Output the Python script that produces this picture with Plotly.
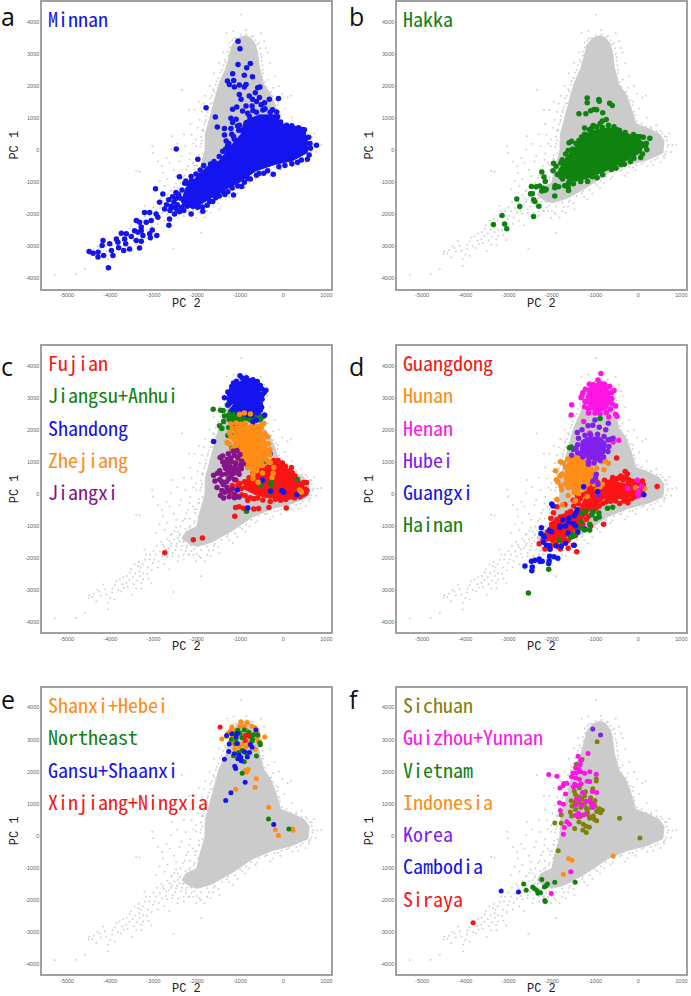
import plotly.graph_objects as go

W, H = 691, 996

X_TICKS = [-5000, -4000, -3000, -2000, -1000, 0, 1000]
Y_TICKS = [-4000, -3000, -2000, -1000, 0, 1000, 2000, 3000, 4000]

# solid part of the grey cloud, too many samples to read one by one
GREY_BLOB = [(-880,3570),(-760,3510),(-660,3340),(-600,3100),(-550,2570),(-450,2060),(-290,1760),(-170,1340),(-60,830),(255,660),(485,510),(600,290),(570,-90),(215,-300),(-250,-460),(-710,-720),(-1170,-1140),(-1630,-1490),(-1800,-1570),(-2000,-1640),(-2200,-1540),(-2340,-1380),(-2250,-1180),(-2000,-1020),(-1920,-540),(-1810,-20),(-1800,500),(-1700,1015),(-1600,1530),(-1490,2050),(-1320,2570),(-1180,3280),(-1060,3490)]
GREY_PTS = [(-5285,-3885),(-4800,-3865),(-4590,-3710),(-4055,-3605),(-4490,-3160),(-4415,-3220),(-4325,-3350),(-4170,-2830),(-4090,-3140),(-4055,-3400),(-3900,-3295),(-3860,-2725),(-3785,-2675),(-3630,-2775),(-3690,-2930),(-3440,-2205),(-3360,-2260),(-3325,-2415),(-3245,-2675),(-3285,-2775),(-3210,-1740),(-3170,-1895),(-3015,-2155),(-2940,-1895),(-3400,-650),(-3325,-675),(-3030,125),(-3015,-80),(-2575,435),(-2345,1885),(-1900,-2570),(-2540,-3065),(-2710,-1740),(-2785,-1585),(-2630,-1480),(-2555,-1845),(-2475,-1640),(-2400,-1480),(-2360,-1740),(-2245,-1690),(-2170,-1895),(-2015,-2105),(-1940,-1950),(-2940,-1220),(-2860,-960),(-2745,-1120),(-2785,-705),(-2630,-395),(-2475,-810),(-2245,-600),(-2360,-185),(-2590,20),(-2170,-290),(-2015,125),(-2090,-395),(-1940,-290),(-2015,330),(-1860,640),(-1785,1060),(-1710,850),(-1630,1470),(-1555,1785),(-1400,2300),(-1310,3660),(-975,4230),(-860,3740),(-400,3190),(790,165),(600,-240),(215,-500),(-245,-705),(-785,-1015),(-1170,-1535),(-1475,-1845),(100,1640),
    (-3550,-2450),(-3480,-2600),(-3600,-2900),(-3300,-2300),(-3150,-2500),(-3100,-2050),(-2850,-1800),(-2680,-1980),(-2600,-1620),(-2520,-1420),(-2440,-1180),(-2300,-1480),(-2250,-1780),(-2120,-1620),(-2080,-1200),(-2180,-1050),(-2050,-850),(-2040,-600),(-1950,-150),(-1900,200),(-1880,620),(-1800,880),(-1740,1250),(-1690,1620),(-1620,1900),(-1540,2150),(-1420,2500),(-1350,2820),(-1280,3080),(-1240,3350),(-1150,3480),(-700,3560),(-560,3350),(-500,2900),(-470,2500),(-360,2200),(-230,1950),(-120,1520),(-80,1100),(80,830),(300,720),(520,590),(660,420),(680,100),(620,-130),(400,-300),(80,-420),(-120,-530),(-420,-640),(-600,-830),(-950,-1100),(-1300,-1350),(-1600,-1620),(-1720,-1770),(-2150,-1580),(-2400,-1300),(-4250,-3050),(-3950,-2950),(-3750,-3050),(-3500,-3150),(-3400,-2950),(-3280,-2950),(-3050,-2800),(-2900,-2300),(-2750,-2200),(-2640,-2350)]
# rough edge of the cloud
GREY_EDGE = [(-1230,3200),(-1270,2950),(-1330,2750),(-1390,2650),(-1460,2420),(-1500,2250),(-1560,2050),(-1600,1850),(-1650,1700),(-1680,1450),(-1720,1350),(-1750,1180),(-1790,950),(-1830,800),(-1850,600),(-1900,420),(-1880,300),(-1920,100),(-1870,-100),(-1960,-280),(-2000,-480),(-1970,-700),(-2060,-920),(-2150,-1000),(-2260,-1100),(-2380,-1250),(-2440,-1380),(-2320,-1500),(-2220,-1620),(-2060,-1720),(-1900,-1760),(-1760,-1640),(-1580,-1560),(-1420,-1430),(-1280,-1280),(-1120,-1230),(-1000,-1040),(-860,-960),(-740,-820),(-560,-700),(-380,-610),(-200,-540),(-40,-470),(130,-380),(300,-350),(450,-240),(590,-180),(650,-50),(700,170),(660,300),(620,430),(560,520),(430,600),(300,680),(180,730),(40,760),(-30,900),(-90,1000),(-100,1200),(-130,1400),(-180,1560),(-240,1680),(-280,1820),(-390,1960),(-420,2120),(-490,2280),(-470,2400),(-480,2650),(-500,2800),(-520,3000),(-540,3180),(-600,3300),(-640,3430),(-720,3540),(-850,3610),(-980,3590),(-1100,3500),(-1180,3420),
    (-1380,3050),(-1480,2720),(-1600,2400),(-1700,2000),(-1800,1700),(-1880,1200),(-1980,700),(-2080,200),(-2150,-100),(-2200,-500),(-2320,-850),(-2480,-1050),(-2580,-1250),(-1840,1450),(-1930,950),(-2120,480),(-2260,120),(-2400,-350),(-2530,-620),(-2680,-900),(-2300,-1900),(-2420,-1950),(-2080,-1900),(-1760,-1900),(-1500,-1650),(-1250,-1450),(-1060,-1350),(-880,-1180),(-640,-900),(-300,-800),(-60,-620),(350,-470),(520,-380),(760,-60),(880,180),(720,520),(420,780),(200,1020),(30,1300),(-20,1760),(180,1700),(-100,2000),(-200,2300),(-300,2700),(-360,3050),(-440,3400),(-520,3650),(-1150,3720)]
GREY_TAIL = [(-4500,-3240),(-4380,-3120),(-4300,-3000),(-4220,-3170),(-4130,-2980),(-4000,-3250),(-3960,-3080),(-3900,-2850),(-3820,-3000),(-3720,-2820),(-3700,-2600),(-3620,-2560),(-3560,-2680),(-3520,-2350),(-3460,-2820),(-3420,-2480),(-3380,-2700),(-3340,-2130),(-3320,-2560),(-3250,-2200),(-3240,-2480),(-3200,-2060),(-3130,-2300),(-3120,-2650),(-3080,-1900),(-3040,-2380),(-3000,-1780),(-2980,-2050),(-2920,-1620),(-2880,-2100),(-2820,-1500),(-2800,-1950),(-2760,-1660),(-2720,-1880),(-2680,-1400),(-2650,-1700),(-2600,-1280),(-2580,-1550),(-2560,-1950),(-2520,-1160),(-2500,-1750),(-2460,-1560),(-2440,-2100),(-2380,-1020),(-2340,-1620),(-2300,-2050),(-2280,-780),(-2200,-1900),(-2160,-780),(-2120,-1780),(-2050,-480),(-2000,-1880),(-1900,-2000),(-1820,-2100),(-1680,-1950),(-1620,-1760),(-2800,-500),(-2700,-250),(-2900,-350),(-2450,200),(-2300,500),(-2150,820),(-2050,1250),(-1950,1500),(-2180,1250)]

# panel a
MINNAN_BLOB = [(-900,910),(-550,1100),(-170,1100),(-55,830),(215,755),(485,705),(560,290),(560,-70),(215,-330),(-170,-435),(-630,-640),(-1015,-1005),(-1320,-1210),(-1785,-1575),(-2090,-1835),(-2360,-1625),(-2245,-1160),(-1785,-540),(-1475,-330),(-1245,80),(-975,500)]
MINNAN_PTS = [(-1045,3400),(-1000,3160),(-1045,2675),(-760,2700),(-845,2570),(-900,2340),(-710,2290),(-1170,2385),(-1145,2175),(-1290,2155),(-1245,2050),(-1015,2030),(-860,2050),(-900,1970),(-1130,1970),(-590,1950),(-540,1970),(-645,1790),(-1015,1740),(-975,1585),(-785,1690),(-710,1585),(-550,1640),(-110,1610),(-320,1585),(-1785,1325),(-1570,1035),(-1525,725),(-1360,675),(-1210,675),(-1360,475),(-1075,1350),(-1170,1275),(-860,1380),(-940,1220),(-1210,995),(-1090,965),(-1170,860),(-1055,755),(-1130,340),(-1320,290),(-1190,500),(-1285,135),(-2475,40),(-1975,-280),(-2400,-830),(-2955,-1200),(-2785,-1370),
    (-1860,-1905),(-2130,-1990),(-2630,-2145),(-2645,-2340),(-2515,-1990),(-2745,-1835),(-2860,-1625),(-2940,-1990),(-3090,-1940),(-3210,-1940),(-2900,-2090),(-3055,-2195),(-3170,-2250),(-3400,-2195),(-3325,-2250),(-3285,-2400),(-3440,-2510),(-3360,-2560),(-3285,-2510),(-3030,-2490),(-3090,-2610),(-2925,-2665),(-3075,-2735),(-3245,-2665),(-3285,-2840),(-3400,-2820),(-3515,-2695),(-3630,-2610),(-3745,-2590),(-3860,-2770),(-3825,-2870),(-3670,-2770),(-3645,-2920),(-3555,-3080),(-3690,-3130),(-3810,-3045),(-3325,-3055),(-4015,-2920),(-4170,-2820),(-4190,-2975),(-3975,-3130),(-3940,-3285),(-4155,-3285),(-4285,-3335),(-4285,-3180),(-4400,-3215),(-4490,-3160),(-4045,-3670),
    (-2600,-1750),(-2530,-1620),(-2450,-1700),(-2380,-1500),(-2300,-1880),(-2220,-1750),(-2480,-1320),(-2650,-1550),(-2200,-1050),(-2120,-950),(-2050,-1020),(-1950,-800),(-1680,-430),(-1600,-350),(-1480,-200),(-1700,-1600),(-1560,-1480),(-1350,-1380),(-1150,-1400),(-1180,-1180),(-900,-1000),(-820,-880),(-620,-780),(-450,-720),(-230,-750),(-100,-520),(40,-480),(200,-420),(330,-380),(420,-310),(560,-280),(600,-150),(630,60),(620,210),(590,400),(490,640),(350,700),(200,760),(80,780),(-60,880),(-130,1040),(-300,1180),(-470,1250),(-620,1180),(-780,1050),(-1010,780),(-960,620),(770,150),
    (-2700,-1700),(-2620,-1880),(-2540,-1780),(-2460,-1850),(-2400,-1920),(-2350,-1780),(-2280,-1700),(-2480,-1500),(-2420,-1380),(-2560,-1450),(-2340,-1240),(-2280,-1030),(-2250,-960),(-2130,-820),(-2020,-740),(-1920,-620),(-1840,-480),(-1730,-590),(-1400,-30),(-1330,40),(-1260,210),(-1150,430),(-1030,620),(-1870,-1770),(-1980,-1780),(-1760,-1720),(-1630,-1600),(-1480,-1430),(-1400,-1290),(-1280,-1300),(-1050,-1120),(-960,-1130),(-760,-900),(-560,-730),(-360,-640),(-700,1240),(-820,1150),(-720,1380),(-420,1290),(-250,1260),(-150,1190),(-510,1420),(-620,1520),(-430,1480)]

# panel b
HAKKA_BLOB = [(-1090,600),(-670,705),(-210,500),(140,240),(60,-70),(-285,-330),(-745,-640),(-1210,-900),(-1590,-950),(-1860,-695),(-1670,-230),(-1400,190)]
HAKKA_PTS = [(-1180,1630),(-1180,1480),(-910,1580),(-900,1530),(-660,1460),(-600,1390),(-1370,1140),(-1100,1230),(-1020,1270),(-960,1260),(-820,1170),(-1210,1140),(-830,910),(-880,830),(-740,960),(-1240,690),(-1040,770),(-960,720),(-690,780),(-1130,640),(-1240,500),(-1310,410),(-1540,280),(-1600,230),(-1370,300),(-1790,-400),(-1960,-410),(-1780,-620),(-2230,-680),(-1970,-640),(-2180,-840),(-2150,-980),(-2470,-1130),(-2360,-1140),(-2280,-1120),(-2200,-1190),(-2130,-1220),(-2230,-1270),(-2150,-1250),(-1920,-1100),(-1930,-1170),(-1840,-1140),(-1700,-1110),(-1620,-1050),(-1500,-1050),(-1620,-1160),(-1610,-1260),(-1930,-1430),(-2490,-1360),(-2450,-1360),(-2420,-1550),(-2390,-1600),(-2300,-1750),(-2810,-1520),(-2740,-1760),(-2420,-2070),(-3150,-2040),(-3350,-2320),(-3090,-2300),(-3040,-2450),(270,370),(50,420),(-20,430),(120,400),(170,130),(100,-120),(-100,-250),(-400,-450),(-620,-600),(-950,-860),(-1170,-980),(-1450,-900),(-1790,-830),(-1900,-500),(-1760,-300),(-300,550),(-480,640),
    (-1680,-120),(-1620,-10),(-1520,40),(-1440,210),(-1300,320),(-1180,470),(-1070,700),(-830,710),(-560,730),(-430,610),(-110,490),(0,280),(190,220),(200,10),(60,-230),(-180,-350),(-320,-440),(-510,-560),(-820,-770),(-1060,-830),(-1330,-980),(-1600,-1000),(-1750,-900),(-1870,-760)]

# panel c
FUJIAN_BLOB = [(-630,695),(-210,1010),(140,760),(400,385),(470,70),(215,-85),(-320,-135),(-630,-30),(-940,175),(-820,490)]
FUJIAN_PTS = [(-2080,-1430),(-1870,-1380),(-2740,-1840),(-1120,-700),(-1100,-430),(-1020,-400),(-920,-450),(-680,-470),(-570,-460),(-330,-430),(70,-440),(-300,-240),(-820,-200),(-680,-150),(-880,-60),(-1060,-90),(-1200,40),(-1280,110),(-1180,260),(-1050,260),(-1090,420),(540,350),(470,350),(390,310),(190,820),(-20,960),(-40,880),(-300,950),(-350,820),(550,100),(520,20),(-60,-120),(150,-100),(320,-60),
    (-1000,320),(-960,-30),(-770,-120),(-590,-130),(-470,-190),(-180,-170),(-60,-200),(60,-180),(260,-130),(390,-90),(470,-30),(510,150),(430,270),(320,420),(270,560),(210,660),(110,700),(50,860),(-120,1040),(-220,1040),(-480,760),(-580,780),(-700,650),(-790,500),(-890,380),(-970,170)]
JIANGSU_PTS = [(-1620,2640),(-1450,2610),(-1390,2600),(-1290,2760),(-1250,2850),(-1360,2430),(-1380,2260),(-1470,2120),(-1420,2040),(-1260,2070),(-1280,1820),(-1200,1830),(-1190,1420),(-900,2870),(-450,2420),(-850,-540),(-520,280),(-280,350),(-270,280),(-290,60),(330,450),(-410,1000),(-480,1050),
    (-1220,2560),(-1150,2660),(-1090,2600),(-1020,2560),(-950,2640),(-880,2560),(-800,2620),(-720,2600),(-640,2540),(-560,2480),(-500,2380),(-1270,2440),(-1190,2480),(-1110,2450),(-1030,2420),(-960,2460),(-880,2420),(-800,2450),(-720,2420),(-640,2390),(-1250,2330),(-1170,2340),(-1090,2300),(-1010,2340),(-930,2300),(-850,2360),(-770,2310),(-690,2340),(-610,2300),(-530,2310),(-1200,2210),(-1110,2180),(-1030,2220),(-950,2170)]
SHANDONG_BLOB = [(-1130,3380),(-1000,3500),(-860,3560),(-700,3500),(-580,3400),(-530,3170),(-560,2800),(-580,2560),(-800,2480),(-1100,2580),(-1200,3000)]
SHANDONG_PTS = [(-1000,3680),(-1190,3350),(-1280,3180),(-1360,3000),(-1270,2780),(-1130,2700),(-900,3560),(-780,3530),(-650,3480),(-530,3380),(-400,3230),(-440,3160),(-560,3020),(-430,2460),(-530,2610),(-1610,1630),(-680,2100),(-860,2000),(-300,1240),(-1060,120),(-820,-440),(-480,420),(-290,90),(-30,100),(10,50),(320,-20),
    (-1150,3460),(-1080,3510),(-950,3610),(-850,3620),(-700,3560),(-600,3500),(-500,3280),(-480,3100),(-490,2950),(-530,2800),(-500,2700),(-600,2530),(-720,2440),(-820,2450),(-920,2500),(-1050,2560),(-1180,2620),(-1220,2850),(-1250,2950),(-1240,3080),(-1200,3230),(-620,2300),(-700,2240)]
ZHEJIANG_BLOB = [(-1130,2100),(-820,2130),(-520,1990),(-400,1620),(-360,1200),(-550,790),(-700,650),(-900,1005),(-1060,1420),(-1180,1650)]
ZHEJIANG_PTS = [(-1010,2480),(-900,2520),(-760,2490),(-450,2200),(-520,2020),(-1250,1560),(-1300,1600),(-1210,1770),(-400,1080),(-300,980),(-230,640),(-480,650),(-700,480),(-580,360),(-260,510),(-220,820),(-1010,1170),(-1050,1300),(380,120),(420,60),
    (-1240,1900),(-1180,2030),(-1210,2180),(-1090,2210),(-980,2170),(-880,2200),(-740,2100),(-620,2110),(-500,2130),(-430,1880),(-360,1780),(-340,1560),(-310,1380),(-310,1230),(-350,1000),(-480,880),(-620,720),(-700,600),(-820,820),(-920,1140),(-1020,1060),(-1120,1500),(-1180,1400)]
JIANGXI_PTS = [(-1530,200),(-1420,100),(-1350,50),(-1250,-90),(-1130,-120),(-1020,-100),(-1450,-50),(-1580,400),(-1610,580),(-1520,640),(-1470,720),(-1470,450),(-1420,380),(-1390,290),(-1310,380),(-1300,200),(-1260,80),(-1170,160),(-1120,-20),(-1380,-130),(-1200,620),(-1270,720),(-1330,790),(-1400,1000),(-1460,1130),(-1400,1180),(-1290,1080),(-1210,1120),(-1130,1200),(-1070,1350),(-1050,1120),(-1000,1230),(-1160,1330),(-1270,1250),(-1200,1000),(-1100,960),(-1000,880),(-920,930),(-1040,720),(-1140,640),(-1210,530),(-1260,470),(-960,1020),(-1310,950),(-1360,880),(-1120,850),(-1240,860),(-1180,740),(-1090,760),(-970,780),(-1320,620),(-1420,600),(-1130,450),(-1020,610)]

# panel d
GUANGDONG_BLOB = [(-1380,-500),(-1080,230),(-480,360),(-100,250),(-60,60),(-280,-160),(-760,-120),(-1150,-550),(-1500,-1200),(-1800,-1480),(-2040,-1400),(-1880,-880)]
GUANGDONG_PTS = [(440,230),(100,400),(-30,400),(-150,320),(-220,450),(-300,700),(-250,620),(-400,560),(-500,1120),(-480,480),(-600,420),(-780,420),(-1080,320),(-130,-30),(-30,70),(60,130),(-240,-200),(-320,-50),(-580,-120),(-800,-950),(-1420,-1810),(-1800,-1720),(-1620,-1700),(-1500,-1600),(-2290,-1560),(-2160,-1720),(-2010,-1620),(-2000,-1050),(-2020,-760),(-1960,-590),(-1880,-400),(-1700,-330),(-1500,-200),(-1400,-70),(-1200,-500),(-1000,-300),(-700,-150),(-1100,-1000),
    (-2200,-1450),(-2100,-1400),(-2050,-1300),(-2100,-1200),(-1980,-1450),(-1900,-1560),(-1850,-1650),(-1750,-1560),(-1700,-1450),(-1620,-1450),(-1550,-1350),(-1450,-1300),(-1400,-1150),(-1350,-1050),(-1280,-950),(-1200,-800),(-1150,-700),(-1060,-560),(-980,-450),(-900,-380),(-820,-300),(-740,-250),(-640,-230),(-520,-220),(-430,-300),(-330,-220),(-240,-280),(-150,-150),(-80,-100),(20,-50),(90,60),(120,280),(30,300),(-70,330),(-140,390),(-230,360),(-300,520),(-350,430),(-430,500),(-520,420),(-590,510),(-680,360),(-760,320),(-870,300),(-950,370),(-1010,220),(-1120,190),(-1190,70),(-1270,-30),(-1340,-150),(-1380,-310),(-1490,-380),(-1560,-540),(-1640,-600),(-1720,-700),(-1800,-720),(-1880,-800),(-1940,-900),(-2000,-950),(-2040,-1100),(-1900,-1000),(-1820,-1150),(-1740,-1280),(-1680,-1150)]
HUNAN_BLOB = [(-1620,1000),(-1360,1160),(-1100,950),(-1015,700),(-1130,385),(-1360,90),(-1560,140),(-1720,480)]
HUNAN_PTS = [(-1910,720),(-1890,440),(-1860,380),(-1790,250),(-1770,130),(-1880,-180),(-1750,-350),(-1620,-50),(-1460,-220),(-1180,-80),(-880,220),(-830,300),(-950,130),(-840,1000),(-750,1010),(-690,950),(-1000,1050),(-790,750),(-980,500),(-1020,300),(-60,190),(150,170),
    (-1800,1000),(-1730,960),(-1680,840),(-1760,620),(-1810,560),(-1680,330),(-1620,200),(-1480,40),(-1380,10),(-1250,160),(-1170,300),(-1080,420),(-1000,620),(-960,800),(-1040,960),(-1200,1080),(-1300,1230),(-1420,1150),(-1530,1100),(-1630,1090)]
HENAN_BLOB = [(-1150,3300),(-1000,3420),(-900,3480),(-760,3400),(-680,3200),(-650,2900),(-720,2650),(-900,2560),(-1080,2620),(-1220,2880)]
HENAN_PTS = [(-860,3750),(-930,3550),(-880,3440),(-1130,3420),(-1220,3260),(-1300,3060),(-1320,3000),(-1230,2880),(-1540,2780),(-1550,2460),(-1150,2520),(-1260,2260),(-700,2880),(-610,2970),(-560,3220),(-520,2740),(-520,2480),(-490,2420),(-680,2400),(-580,1620),(-450,1670),(-20,420),(-240,170),(0,90),(80,240),(0,-60),(-1120,1900),
    (-1040,3400),(-780,3420),(-660,3350),(-610,3150),(-600,2800),(-640,2640),(-740,2540),(-880,2500),(-1000,2520),(-1150,2650),(-1240,2720),(-1280,3150)]
HUBEI_BLOB = [(-1320,1650),(-1180,1760),(-900,1780),(-740,1600),(-760,1280),(-950,1030),(-1180,1100),(-1340,1310)]
HUBEI_PTS = [(-1400,1530),(-1380,1730),(-1410,1910),(-1300,2000),(-1160,2120),(-1050,2140),(-1000,2300),(-690,2200),(-900,2080),(-750,2000),(-640,1700),(-580,1730),(-1330,1260),(-1540,1200),(-1500,1380),(-1150,920),(-970,610),(-990,490),(-1050,390),(-930,300),(-920,-30),
    (-1230,1830),(-1100,1840),(-940,1860),(-790,1790),(-700,1680),(-680,1480),(-700,1320),(-800,1150),(-880,1040),(-1020,960),(-1150,1010),(-1280,1150),(-1400,1280),(-1440,1420)]
GUANGXI_PTS = [(-1260,220),(-1970,-380),(-2000,-320),(-1410,-500),(-1440,-600),(-1480,-680),(-1600,-750),(-1740,-820),(-1680,-1000),(-1800,-1000),(-1810,-1050),(-1600,-880),(-1500,-930),(-1440,-1000),(-2240,-1060),(-2250,-1240),(-2190,-1310),(-2170,-1340),(-2060,-1150),(-2000,-1180),(-2190,-1510),(-2120,-1600),(-2060,-1620),(-2040,-1730),(-1900,-1620),(-1780,-1640),(-1480,-1600),(-1680,-1540),(-1620,-1220),(-1400,-1200),(-1230,-1100),(-2620,-2250),(-2470,-2100),(-2390,-2070),(-2290,-2030),(-2270,-2110),(-2220,-2100),(-2050,-1950),(-1950,-1960),(-1860,-2010),(-2060,-2090),(-2070,-2170),(-2450,-2280),(-2460,-2400),(130,-30),(-940,70)]
HAINAN_PTS = [(-880,2350),(-1590,1440),(-1550,1460),(-1300,-600),(-1210,-540),(-1040,-550),(-910,-600),(-1070,-650),(-900,-720),(-710,-450),(-590,-420),(-980,-780),(-1120,-950),(-1320,-860),(-1240,-1130),(-1120,-1130),(-1330,-1060),(-1480,-1280),(-1560,-1350),(-1500,-1320),(-1820,-1450),(-2070,-2350),(-2540,-3090)]

# panel e
SHANXI_PTS = [(-980,3560),(-830,3530),(-1000,3420),(-900,3420),(-720,3420),(-650,3370),(-1190,3390),(-1230,3260),(-1310,3100),(-600,3220),(-430,3080),(-1420,3020),(-580,3100),(-860,3300),(-760,3200),(-980,3100),(-860,3000),(-660,3050),(-1100,2950),(-940,2880),(-780,2900),(-650,2700),(-1120,2720),(-1000,2780),(-870,2760),(-1150,2880),(-1270,3210),(-1120,3280),(-1180,3080),(-580,2950),(-530,2880),(-850,1980),(-880,2030),(-810,2070),(-620,1780),(-650,1510),(-1100,1450),(-340,890),(-180,190),(-110,10),(210,210),(230,170),(-800,2830),(-1040,2600)]
NORTHEAST_PTS = [(-1050,3290),(-900,3300),(-1110,3180),(-800,3230),(-1200,3000),(-1090,3030),(-950,3060),(-710,3000),(-540,2900),(-530,2840),(-690,3150),(-590,3140),(-1100,2880),(-850,3130),(-760,3090),(-1030,2600),(-950,2660),(-860,2590),(-1150,2500),(-1040,2420),(-620,2490),(-900,2310),(-950,1950),(-340,520),(130,210),(-720,2960),(-1000,3200)]
GANSU_PTS = [(-1310,3130),(-1190,3180),(-1060,3200),(-630,3300),(-1250,2860),(-1060,2880),(-1260,2630),(-1130,2560),(-1020,2520),(-900,2620),(-780,2600),(-720,2760),(-760,2850),(-830,2460),(-1050,2400),(-980,2450),(-1360,2390),(-1120,2170),(-1100,2100),(-880,1670),(-1210,1340),(-1330,1100),(-220,350),(-1090,3100),(-970,2340)]
XINJIANG_PTS = [(-1460,3390),(-880,3130),(-800,3120),(-880,2970)]

# panel f
SICHUAN_PTS = [(-1430,2230),(-1300,2380),(-950,2930),(-970,1780),(-970,1710),(-1050,1470),(-1220,1370),(-1360,1500),(-1480,1400),(-1360,1210),(-1240,1240),(-1100,1190),(-1000,1100),(-1460,1050),(-1360,1030),(-1230,1040),(-1100,1020),(-1000,920),(-1530,930),(-1570,740),(-1450,820),(-1330,880),(-1210,880),(-1090,880),(-960,760),(-830,800),(-870,720),(-1540,620),(-1390,590),(-1280,650),(-1170,700),(-1040,620),(-960,470),(-1780,660),(-1450,1290),(-1130,590),(-1370,430),(-1270,360),(-1200,300),(-1130,270),(-1470,230),(-1200,100),(-1280,180),(-1120,550),(-1010,510),(-1930,400),(-1780,390),(-1850,-470),(-430,550),(40,-70),(-1020,1000),(-1550,1090),(-1300,1150),(-900,840),(-1180,800)]
GUIZHOU_PTS = [(-1160,2570),(-1390,2480),(-1330,2350),(-1340,2220),(-1450,2120),(-1330,2000),(-1370,2080),(-1430,1970),(-1120,2000),(-1240,1950),(-1510,1960),(-2070,1910),(-1880,1860),(-1540,1840),(-1440,1800),(-1360,1760),(-970,1920),(-1180,1700),(-1120,1690),(-1320,1620),(-1400,1560),(-1500,1530),(-1720,1630),(-1650,1640),(-1470,1610),(-1810,1490),(-1740,1560),(-1680,1300),(-1290,1350),(-1060,1380),(-960,1350),(-1430,1150),(-1370,1130),(-1200,1080),(-1300,960),(-1120,1100),(-1060,1000),(-1820,1030),(-1730,980),(-1800,790),(-1440,960),(-1380,700),(-1450,640),(-1220,670),(-1340,600),(-1650,440),(-1590,360),(-1710,260),(-1730,50),(-2010,-1800),(-1560,-1120),(-1050,880)]
VIETNAM_PTS = [(-1460,-1450),(-2230,-1360),(-2650,-1500),(-2590,-1700),(-2440,-1600),(-2400,-1650),(-2340,-1710),(-2320,-1790),(-2260,-1780),(-2170,-1600),(-2130,-1560),(-2100,-1500),(-1930,-1450),(-2160,-2020),(-2150,-2050)]
INDONESIA_PTS = [(-1610,-720),(-1530,-760),(-1730,-1200),(-580,-630)]
KOREA_PTS = [(-1050,3330),(-870,3140)]
CAMBODIA_PTS = [(-3170,-1720),(-2770,-1750)]
SIRAYA_PTS = [(-3820,-2710)]

RED = '#fa1414'
GREEN = '#0f820f'
BLUE = '#1414f0'
ORANGE = '#ff8c14'
MAGENTA = '#ff14e6'
VIOLET = '#8020f0'
PURPLE = '#85148c'
OLIVE = '#80800a'

PANELS = [
    ('a', 0, 0, [('Minnan', BLUE, MINNAN_PTS, MINNAN_BLOB)]),
    ('b', 1, 0, [('Hakka', GREEN, HAKKA_PTS, HAKKA_BLOB)]),
    ('c', 0, 1, [('Fujian', RED, FUJIAN_PTS, FUJIAN_BLOB), ('Jiangsu+Anhui', GREEN, JIANGSU_PTS, None),
                 ('Shandong', BLUE, SHANDONG_PTS, SHANDONG_BLOB), ('Zhejiang', ORANGE, ZHEJIANG_PTS, ZHEJIANG_BLOB),
                 ('Jiangxi', PURPLE, JIANGXI_PTS, None)]),
    ('d', 1, 1, [('Guangdong', RED, GUANGDONG_PTS, GUANGDONG_BLOB), ('Hunan', ORANGE, HUNAN_PTS, HUNAN_BLOB),
                 ('Henan', MAGENTA, HENAN_PTS, HENAN_BLOB), ('Hubei', VIOLET, HUBEI_PTS, HUBEI_BLOB),
                 ('Guangxi', BLUE, GUANGXI_PTS, None), ('Hainan', GREEN, HAINAN_PTS, None)]),
    ('e', 0, 2, [('Shanxi+Hebei', ORANGE, SHANXI_PTS, None), ('Northeast', GREEN, NORTHEAST_PTS, None),
                 ('Gansu+Shaanxi', BLUE, GANSU_PTS, None), ('Xinjiang+Ningxia', RED, XINJIANG_PTS, None)]),
    ('f', 1, 2, [('Sichuan', OLIVE, SICHUAN_PTS, None), ('Guizhou+Yunnan', MAGENTA, GUIZHOU_PTS, None),
                 ('Vietnam', GREEN, VIETNAM_PTS, None), ('Indonesia', ORANGE, INDONESIA_PTS, None),
                 ('Korea', VIOLET, KOREA_PTS, None), ('Cambodia', BLUE, CAMBODIA_PTS, None), ('Siraya', RED, SIRAYA_PTS, None)]),
]

LEFTS = [42.3, 398.3]
TOPS = [1, 345, 687.3]
LETTER_Y = [15, 365, 699]
PW, PH = 289.4, 287
FONT = '"Noto Sans Mono CJK SC", "Liberation Mono", monospace'
TITLE_FONT = 'Liberation Mono'


def blob_trace(blob, color, ax):
    xs = [p[0] for p in blob] + [blob[0][0]]
    ys = [p[1] for p in blob] + [blob[0][1]]
    return go.Scatter(x=xs, y=ys, mode='lines', fill='toself', fillcolor=color, line=dict(color=color, width=1),
                      xaxis=f'x{ax}', yaxis=f'y{ax}', hoverinfo='skip', showlegend=False)


def pts_trace(pts, color, size, ax, name=None):
    return go.Scatter(x=[p[0] for p in pts], y=[p[1] for p in pts], mode='markers', name=name,
                      marker=dict(color=color, size=size, line=dict(width=0)),
                      xaxis=f'x{ax}', yaxis=f'y{ax}', showlegend=False)


def note(text, x, y, size, color, family=FONT, anchor='left', angle=0):
    return dict(text=text, xref='paper', yref='paper', x=x / W, y=1 - y / H, xanchor=anchor, yanchor='middle',
                showarrow=False, textangle=angle, font=dict(family=family, size=size, color=color))


fig = go.Figure()
annots = []
layout = {}
for i, (letter, col, row, series) in enumerate(PANELS):
    ax = i + 1
    left, top = LEFTS[col], TOPS[row]
    fig.add_trace(blob_trace(GREY_BLOB, '#cbcbcb', ax))
    fig.add_trace(pts_trace(GREY_PTS + GREY_EDGE + GREY_TAIL, '#d2d2d2', 2, ax))
    for j, (name, color, pts, blob) in enumerate(series):
        if blob:
            fig.add_trace(blob_trace(blob, color, ax))
        fig.add_trace(pts_trace(pts, color, 5.5 if row < 2 else 5, ax, name))
        annots.append(note(name, left + 3.5, top + 17 + 32.3 * j, 20, color))
    annots.append(note(letter, left - 43 if col == 0 else left - 50, LETTER_Y[row], 25, '#111', family='Open Sans'))
    annots.append(note('PC 2', left + 144.5, top + PH + 15, 12, '#222', family=TITLE_FONT, anchor='center'))
    annots.append(note('PC 1', left - 27, top + 143.5, 12, '#222', family=TITLE_FONT, anchor='center', angle=-90))
    common = dict(showgrid=False, zeroline=False, showline=True, mirror=True, linecolor='#a0a0a0', linewidth=1.5,
                  ticks='', tickfont=dict(family='Liberation Sans', size=5.5, color='#666'))
    layout[f'xaxis{ax}'] = dict(domain=[left / W, (left + PW) / W], range=[-5577, 1100], anchor=f'y{ax}', tickvals=X_TICKS,
                                ticktext=[str(v) for v in X_TICKS], **common)
    layout[f'yaxis{ax}'] = dict(domain=[1 - (top + PH) / H, 1 - top / H], range=[-4321, 4622], anchor=f'x{ax}', tickvals=Y_TICKS,
                                ticktext=[str(v) for v in Y_TICKS], **common)

fig.update_layout(width=W, height=H, margin=dict(l=0, r=0, t=0, b=0), paper_bgcolor='white', plot_bgcolor='white',
                  annotations=annots, **layout)
fig.write_html("out.html", config=dict(displayModeBar=False), post_script="document.body.style.margin='0';")
